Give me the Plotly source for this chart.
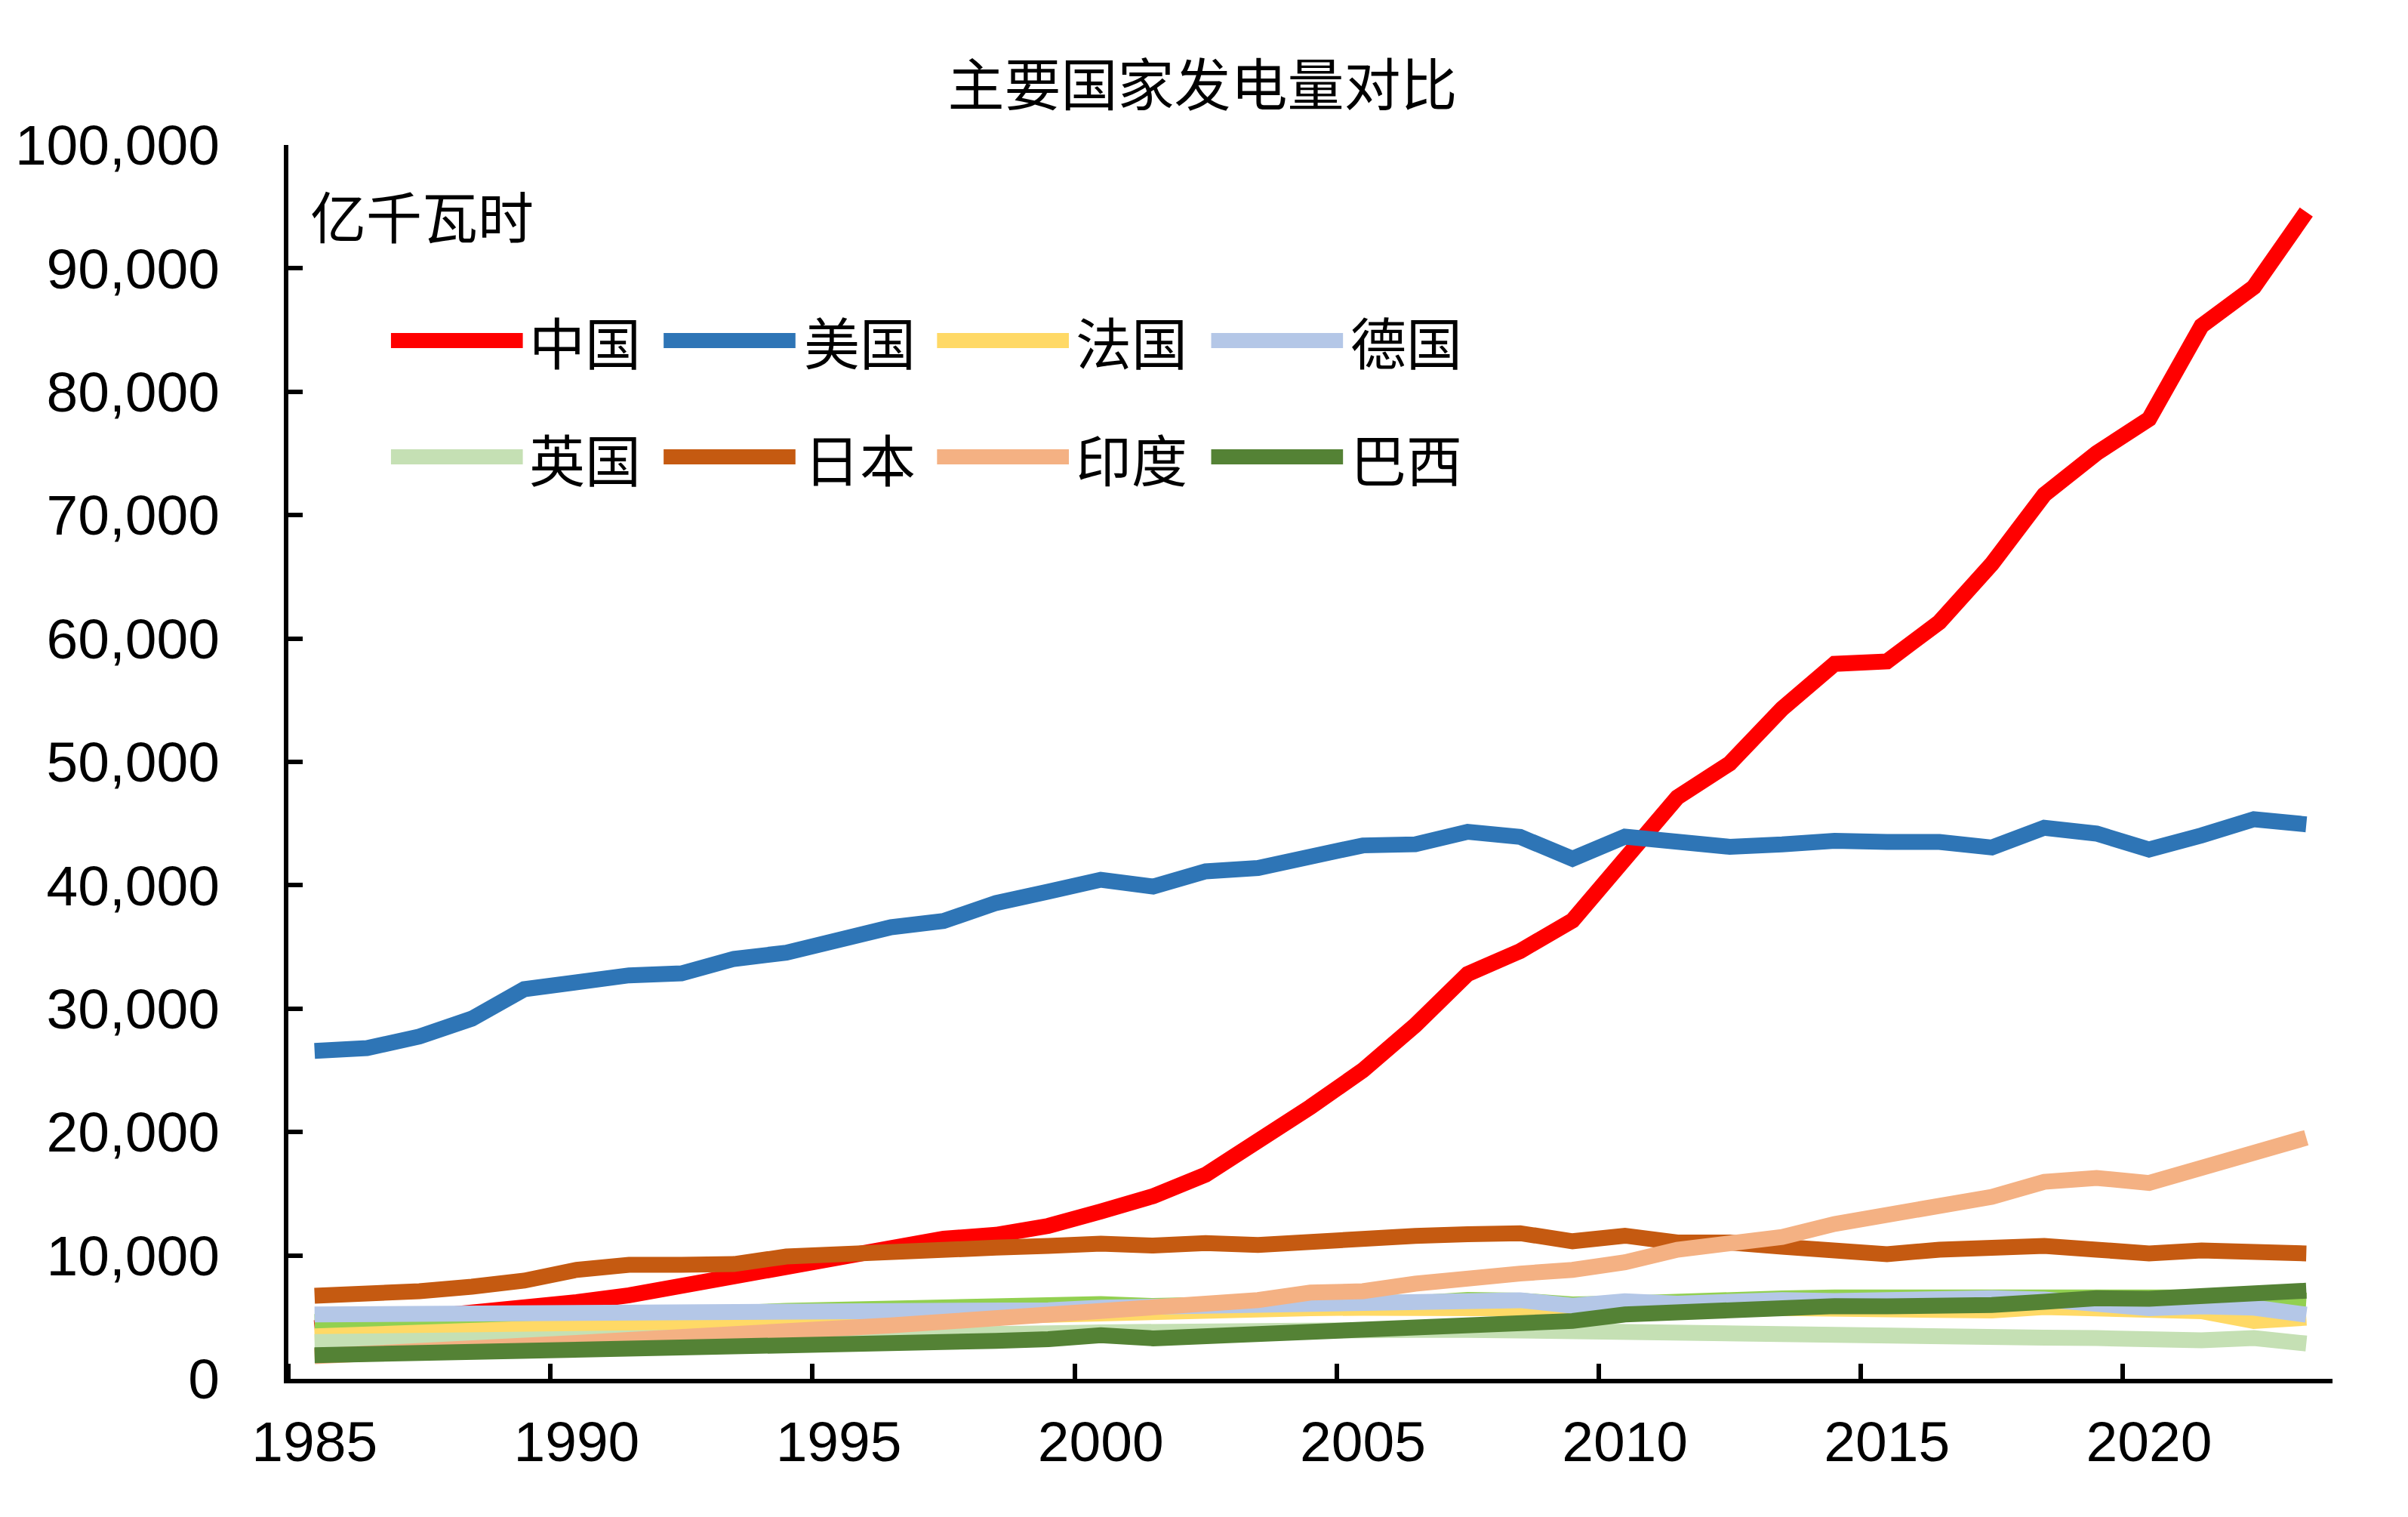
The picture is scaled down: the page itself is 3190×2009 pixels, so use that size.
import plotly.graph_objects as go

years = list(range(1985, 2024))

# 亿千瓦时
china = [4107, 4495, 4973, 5452, 5848, 6212, 6775, 7539, 8395, 9281,
         10070, 10813, 11356, 11670, 12393, 13556, 14808, 16540, 19106, 22033,
         25003, 28657, 32816, 34669, 37147, 42072, 47130, 49876, 54316, 57945,
         58146, 61332, 66044, 71661, 75034, 77791, 85342, 88487, 94564]
usa = [26580, 26800, 27740, 29190, 31580, 32300, 32700, 32860, 34030, 34540,
       35600, 36600, 37100, 38560, 39490, 40450, 39900, 41130, 41400, 42350,
       43230, 43320, 44330, 43920, 42150, 43940, 43630, 43120, 43310, 43610,
       43510, 43510, 43060, 44660, 44190, 42900, 44040, 45350, 44940]
canada = [4600, 4690, 4960, 5060, 5000, 4820, 5070, 5210, 5270, 5510,
          5600, 5710, 5740, 5610, 5780, 6060, 5900, 6010, 5900, 5990,
          6260, 6120, 6400, 6330, 6030, 6100, 6340, 6300, 6520, 6600,
          6620, 6650, 6610, 6540, 6460, 6520, 6450, 6600, 6330]
france = [3440, 3620, 3780, 3920, 4070, 4200, 4550, 4630, 4720, 4780,
          4940, 5130, 5040, 5080, 5240, 5400, 5490, 5590, 5660, 5720,
          5760, 5740, 5690, 5750, 5420, 5690, 5620, 5640, 5730, 5620,
          5710, 5560, 5540, 5810, 5700, 5280, 5480, 4690, 4950]
germany = [5220, 5230, 5340, 5420, 5510, 5500, 5400, 5380, 5260, 5290,
           5370, 5520, 5520, 5570, 5560, 5770, 5860, 5870, 6080, 6160,
           6220, 6370, 6370, 6370, 5930, 6280, 6090, 6290, 6380, 6300,
           6470, 6490, 6540, 6430, 6090, 5730, 5880, 5770, 5200]
uk = [2980, 3010, 3010, 3060, 3130, 3190, 3230, 3210, 3230, 3260,
      3340, 3480, 3460, 3620, 3680, 3770, 3850, 3870, 3980, 3940,
      3980, 3970, 3970, 3890, 3760, 3820, 3680, 3640, 3580, 3450,
      3420, 3400, 3380, 3340, 3300, 3170, 3120, 3300, 2860]
japan = [6730, 6790, 7100, 7470, 7960, 8830, 9240, 9240, 9300, 9910,
         10160, 10360, 10570, 10630, 10770, 10950, 10800, 11000, 10850, 11200,
         11450, 11580, 11720, 11800, 11150, 11600, 11050, 11050, 10700, 10500,
         10100, 10470, 10670, 10770, 10470, 10160, 10400, 10420, 10160]
india = [1830, 1990, 2170, 2400, 2620, 2900, 3150, 3330, 3560, 3840,
         4170, 4330, 4620, 4940, 5250, 5570, 5770, 5980, 6380, 6990,
         7100, 7710, 8220, 8530, 8830, 9440, 10460, 10970, 11500, 12550,
         13220, 14030, 14750, 15970, 16280, 15870, 16990, 18320, 19540]
brazil = [1920, 1990, 2030, 2140, 2200, 2220, 2330, 2410, 2520, 2600,
          2660, 2800, 2940, 3070, 3220, 3530, 3280, 3460, 3650, 3870,
          4030, 4190, 4450, 4630, 4690, 5220, 5430, 5630, 5830, 5890,
          5880, 5780, 5980, 6240, 6530, 6490, 6790, 6940, 7140]

series = [
    ("中国", china, "#FF0000"),
    ("美国", usa, "#2E75B6"),
    ("加拿大", canada, "#92D050"),
    ("法国", france, "#FFD966"),
    ("德国", germany, "#B4C7E7"),
    ("英国", uk, "#C5E0B4"),
    ("日本", japan, "#C55A11"),
    ("印度", india, "#F4B183"),
    ("巴西", brazil, "#548235"),
]
legend_order = ["中国", "美国", "法国", "德国", "英国", "日本", "印度", "巴西"]
xtick_years = [1985, 1990, 1995, 2000, 2005, 2010, 2015, 2020]
ytick_vals = list(range(0, 100001, 10000))

W, H = 3190, 2009
OFFX, OFFY = 16, 8  # page offsets of the html page
# target plot-area edges on screen
L, R, T, B = 369, 3098, 192, 1826
pw, ph = R - L, B - T

CJK = "Noto Sans CJK SC"
NUM = "Liberation Sans, Arial"

fig = go.Figure()
for name, vals, color in series:
    fig.add_trace(go.Scatter(
        x=years, y=vals, name=name, mode="lines",
        line=dict(color=color, width=21),
        showlegend=False,
    ))

# manual legend (long thick samples like the original)
colors = {n: c for n, _, c in series}
col_px = [506, 870, 1235, 1601]
row_px = [451, 605]
sample_len = 176
text_x = [688, 1055, 1418, 1785]
shapes, annotations = [], []
for i, name in enumerate(legend_order):
    cx = col_px[i % 4]
    ry = row_px[i // 4]
    yp = (B - ry) / ph
    shapes.append(dict(type="line", xref="paper", yref="paper",
                       x0=(cx - L) / pw, x1=(cx + sample_len - L) / pw,
                       y0=yp, y1=yp,
                       line=dict(color=colors[name], width=20)))
    annotations.append(dict(text=name, xref="paper", yref="paper",
                            x=(text_x[i % 4] - L) / pw, y=yp,
                            xanchor="left", yanchor="middle", showarrow=False,
                            font=dict(family=CJK, size=74, color="black")))

annotations.append(dict(text="亿千瓦时", xref="paper", yref="paper",
                        x=(396 - L) / pw, y=(B - 283) / ph,
                        xanchor="left", yanchor="middle", showarrow=False,
                        font=dict(family=CJK, size=74, color="black")))

fig.update_layout(
    width=W, height=H,
    margin=dict(l=L - OFFX, r=W - R + OFFX, t=T - OFFY, b=H - B + OFFY, pad=0),
    paper_bgcolor="white", plot_bgcolor="white",
    title=dict(text="主要国家发电量对比", x=(1603 - OFFX - 2) / W, xref="container",
               xanchor="center", y=1 - (114 - OFFY) / H, yref="container",
               yanchor="middle",
               font=dict(family=CJK, size=75, color="black")),
    shapes=shapes, annotations=annotations,
    showlegend=False,
)
fig.update_xaxes(
    range=[1984.5, 2023.5],
    tickmode="array", tickvals=xtick_years, ticktext=[str(v) for v in xtick_years],
    ticks="", showgrid=False, zeroline=False,
    showline=True, linecolor="black", linewidth=6,
    tickfont=dict(family=NUM, size=75, color="black"),
    ticklabelstandoff=13,
    minor=dict(ticks="inside", tickmode="linear", tick0=1984.5, dtick=5,
               ticklen=20, tickwidth=6, tickcolor="black", showgrid=False),
)
fig.update_yaxes(
    range=[0, 100000],
    tickmode="array", tickvals=ytick_vals,
    tickformat=",d",
    ticks="inside", ticklen=19, tickwidth=6, tickcolor="black",
    showgrid=False, zeroline=False,
    showline=True, linecolor="black", linewidth=6,
    tickfont=dict(family=NUM, size=75, color="black"),
    ticklabelstandoff=70,
)

fig.write_html("out.html")
